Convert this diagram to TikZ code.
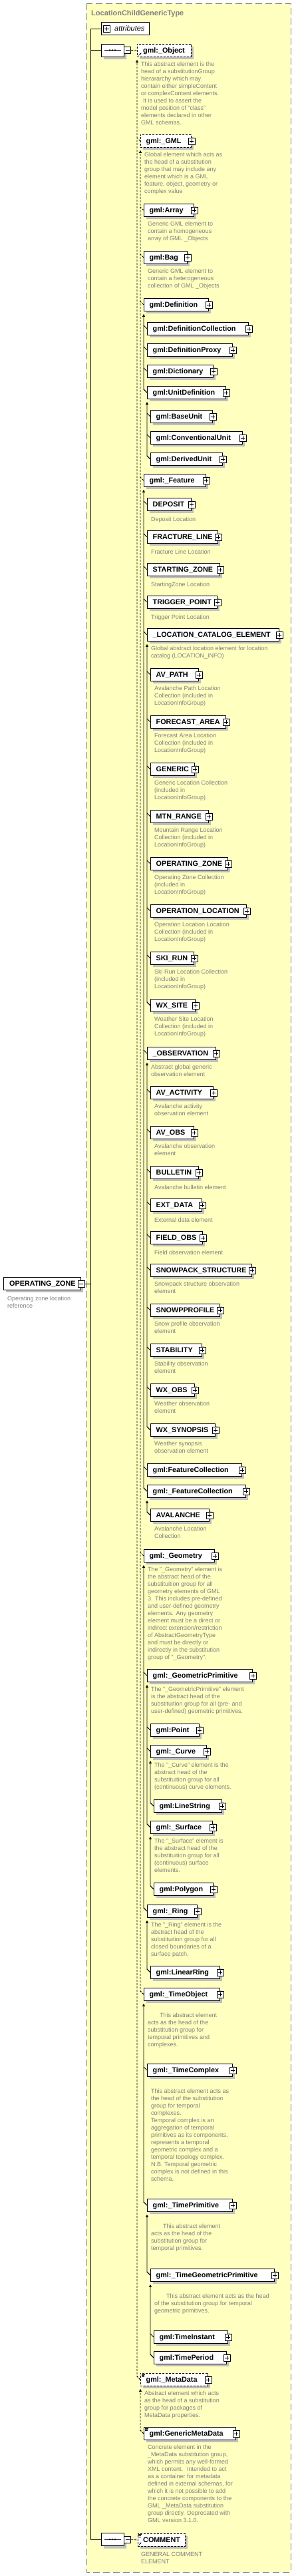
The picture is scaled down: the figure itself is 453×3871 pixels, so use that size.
\documentclass[tikz,border=0pt]{standalone}
\usepackage{fontspec}
\setmainfont{Liberation Sans}
\usetikzlibrary{arrows.meta,shapes.misc}

\definecolor{typefill}{RGB}{255,255,192}
\definecolor{shadowgray}{RGB}{192,192,192}
\definecolor{docgray}{RGB}{128,128,128}

% element box with shadow, label and expander
\newcommand{\elem}[6][]{%
  \fill[shadowgray] ({#3+4},{#4+4}) rectangle ++(#5,19);
  \node[elembox,#1,minimum width=#5pt,anchor=north west] (#2) at (#3,#4) {};
  \node[elemname] (#2t) at ([xshift=8.5pt]#2.west) {#6};
  \node[plusbox] (#2x) at (#2.east) {};
}
% documentation text below an element
\newcommand{\elemdoc}[3][7.3]{%
  \node[doctext] (#2d) at ([shift={(6,#1)}]#2.south west) {#3};
}
% substitution group: ticks to the members, line up to the head
\newcommand{\subgroup}[4][]{%
  \foreach \member in {#3} \draw[subline,#1] (\member.west) -- ++(-5,-5);
  \draw[subline,#1,-{Triangle[width=4pt,length=4pt]}] (#4.west) -- ++(-5,-5) -- ([yshift=-4pt]#2.south west);
}

\begin{document}
\begin{tikzpicture}[x=1pt, y=-1pt,
  typeframe/.style={draw=docgray, fill=typefill, line width=0.9pt, dash pattern=on 10pt off 5pt},
  typetitle/.style={anchor=west, inner sep=0pt, text height=8pt, text depth=0pt, text=docgray, font=\fontsize{11}{13}\selectfont\bfseries},
  elembox/.style={draw, fill=white, line width=0.9pt, minimum height=19pt, inner sep=0pt},
  absbox/.style={dash pattern=on 3pt off 2pt},
  elemname/.style={anchor=west, inner sep=0pt, text height=7.7pt, text depth=0pt, font=\fontsize{10.8}{12}\selectfont\bfseries},
  attrname/.style={anchor=west, inner sep=0pt, text height=7.7pt, text depth=0pt, font=\fontsize{11}{12}\selectfont\itshape},
  plusbox/.style={draw, fill=white, line width=0.8pt, minimum size=10pt, inner sep=0pt,
    path picture={\draw[line width=0.8pt] ([xshift=-3.2pt]path picture bounding box.center) -- ([xshift=3.2pt]path picture bounding box.center)
      ([yshift=-3.2pt]path picture bounding box.center) -- ([yshift=3.2pt]path picture bounding box.center);}},
  minusbox/.style={draw, fill=white, line width=0.8pt, minimum size=10pt, inner sep=0pt,
    path picture={\draw[line width=0.8pt] ([xshift=-3.2pt]path picture bounding box.center) -- ([xshift=3.2pt]path picture bounding box.center);}},
  seqbox/.style={chamfered rectangle, chamfered rectangle xsep=5pt, chamfered rectangle ysep=5pt, minimum width=34pt, minimum height=19pt, inner sep=0pt, line width=0.9pt},
  doctext/.style={anchor=north west, inner sep=0pt, align=left, text=docgray, font=\fontsize{9}{11}\selectfont, execute at begin node=\strut},
  subline/.style={line width=0.8pt},
  conn/.style={line width=0.9pt},
  icon/.style={line width=0.6pt}]

  \fill[white] (0,0) rectangle (453,3871);
  \useasboundingbox (0,0) rectangle (453,3871);

  % Complex type frame
  \draw[typeframe] (130,5) rectangle (437,3865);
  \node[typetitle] (title) at (137,19) {LocationChildGenericType};

  % Attributes
  \node[elembox, minimum width=72pt, anchor=north west] (attr) at (152,33) {};
  \node[plusbox] (attrx) at ([xshift=8.5pt]attr.west) {};
  \node[attrname] (attrt) at ([xshift=20pt]attr.west) {attributes};
  \coordinate (spine) at (136.5,0);

  % Sequences
  \node[seqbox, fill=shadowgray] (seq1s) at (173,79.5) {};
  \node[seqbox, draw, fill=white] (seq1) at (169,75.5) {};
  \draw[line width=0.9pt] ([xshift=-12.5pt]seq1.center) -- ([xshift=12.5pt]seq1.center);
  \foreach \dx in {-4,0,4} \fill ([xshift=\dx pt]seq1.center) circle (1.4pt);
  \node[minusbox, anchor=west] (seq1x) at (seq1.east) {};

  \node[seqbox, fill=shadowgray] (seq2s) at (173,3820) {};
  \node[seqbox, draw, fill=white] (seq2) at (169,3816) {};
  \draw[line width=0.9pt] ([xshift=-12.5pt]seq2.center) -- ([xshift=12.5pt]seq2.center);
  \foreach \dx in {-4,0,4} \fill ([xshift=\dx pt]seq2.center) circle (1.4pt);
  \node[minusbox, anchor=west] (seq2x) at (seq2.east) {};

  % gml:_Object head
  \fill[shadowgray] (210,70) rectangle ++(81,19);
  \node[elembox, absbox, minimum width=81pt, anchor=north west] (obj) at (206,66) {};
  \node[elemname] (objt) at ([xshift=9pt]obj.west) {gml:\_Object};
  \draw[icon, -{Stealth[length=2.5pt,width=2.5pt]}] ([shift={(2.5,-2.5)}]obj.south west) -- ++(4,-4);
  \elemdoc{obj}{This abstract element is the\\head of a substitutionGroup\\hierararchy which may\\contain either simpleContent\\or complexContent elements.\\\hspace*{3pt}It is used to assert the\\model position of "class"\\elements declared in other\\GML schemas.}

  % gml:_GML group
  \elem[absbox]{gmlgml}{211}{202}{76}{gml:\_GML}
  \elemdoc{gmlgml}{Global element which acts as\\the head of a substitution\\group that may include any\\element which is a GML\\feature, object, geometry or\\complex value}
  \elem{array}{216}{306}{75}{gml:Array}
  \elemdoc{array}{Generic GML element to\\contain a homogeneous\\array of GML \_Objects}
  \elem{bag}{216}{377}{65}{gml:Bag}
  \elemdoc{bag}{Generic GML element to\\contain a heterogeneous\\collection of GML \_Objects}

  % Definitions
  \elem{defn}{216}{448}{97}{gml:Definition}
  \elem{defcoll}{221}{484}{152}{gml:DefinitionCollection}
  \elem{defproxy}{221}{516}{128}{gml:DefinitionProxy}
  \elem{dict}{221}{548}{99}{gml:Dictionary}
  \elem{unitdef}{221}{580}{118}{gml:UnitDefinition}
  \elem{baseunit}{226}{616}{93}{gml:BaseUnit}
  \elem{convunit}{226}{648}{138}{gml:ConventionalUnit}
  \elem{derivunit}{226}{680}{108}{gml:DerivedUnit}

  % Features
  \elem{feature}{216}{712}{93}{gml:\_Feature}
  \elem{deposit}{221}{748}{66}{DEPOSIT}
  \elemdoc{deposit}{Deposit Location}
  \elem{fracline}{221}{797}{106}{FRACTURE\_LINE}
  \elemdoc{fracline}{Fracture Line Location}
  \elem{startzone}{221}{846}{109}{STARTING\_ZONE}
  \elemdoc{startzone}{StartingZone Location}
  \elem{trigpoint}{221}{895}{105}{TRIGGER\_POINT}
  \elemdoc{trigpoint}{Trigger Point Location}
  \elem{loccat}{221}{944}{198}{\_LOCATION\_CATALOG\_ELEMENT}
  \elemdoc{loccat}{Global abstract location element for location\\catalog (LOCATION\_INFO)}
  \elem{avpath}{226}{1004}{72}{AV\_PATH}
  \elemdoc{avpath}{Avalanche Path Location\\Collection (included in\\LocationInfoGroup)}
  \elem{fcarea}{226}{1075}{113}{FORECAST\_AREA}
  \elemdoc{fcarea}{Forecast Area Location\\Collection (included in\\LocationInfoGroup)}
  \elem{generic}{226}{1146}{66}{GENERIC}
  \elemdoc{generic}{Generic Location Collection\\(included in\\LocationInfoGroup)}
  \elem{mtnrange}{226}{1217}{87}{MTN\_RANGE}
  \elemdoc{mtnrange}{Mountain Range Location\\Collection (included in\\LocationInfoGroup)}
  \elem{opzone}{226}{1288}{116}{OPERATING\_ZONE}
  \elemdoc{opzone}{Operating Zone Collection\\(included in\\LocationInfoGroup)}
  \elem{oploc}{226}{1359}{144}{OPERATION\_LOCATION}
  \elemdoc{oploc}{Operation Location Location\\Collection (included in\\LocationInfoGroup)}
  \elem{skirun}{226}{1430}{65}{SKI\_RUN}
  \elemdoc{skirun}{Ski Run Location Collection\\(included in\\LocationInfoGroup)}
  \elem{wxsite}{226}{1501}{67}{WX\_SITE}
  \elemdoc{wxsite}{Weather Site Location\\Collection (included in\\LocationInfoGroup)}

  % Observations
  \elem{obs}{221}{1573}{103}{\_OBSERVATION}
  \elemdoc{obs}{Abstract global generic\\observation element}
  \elem{avact}{226}{1632}{94}{AV\_ACTIVITY}
  \elemdoc{avact}{Avalanche activity\\observation element}
  \elem{avobs}{226}{1692}{65}{AV\_OBS}
  \elemdoc{avobs}{Avalanche observation\\element}
  \elem{bulletin}{226}{1752}{72}{BULLETIN}
  \elemdoc{bulletin}{Avalanche bulletin element}
  \elem{extdata}{226}{1801}{77}{EXT\_DATA}
  \elemdoc{extdata}{External data element}
  \elem{fieldobs}{226}{1850}{78}{FIELD\_OBS}
  \elemdoc{fieldobs}{Field observation element}
  \elem{snowstruct}{226}{1899}{152}{SNOWPACK\_STRUCTURE}
  \elemdoc{snowstruct}{Snowpack structure observation\\element}
  \elem{snowprof}{226}{1959}{104}{SNOWPPROFILE}
  \elemdoc{snowprof}{Snow profile observation\\element}
  \elem{stability}{226}{2019}{77}{STABILITY}
  \elemdoc{stability}{Stability observation\\element}
  \elem{wxobs}{226}{2079}{66}{WX\_OBS}
  \elemdoc{wxobs}{Weather observation\\element}
  \elem{wxsyn}{226}{2139}{97}{WX\_SYNOPSIS}
  \elemdoc{wxsyn}{Weather synopsis\\observation element}
  \elem{featcoll}{221}{2199}{142}{gml:FeatureCollection}
  \elem{afeatcoll}{221}{2231}{148}{gml:\_FeatureCollection}
  \elem{avalanche}{226}{2267}{88}{AVALANCHE}
  \elemdoc{avalanche}{Avalanche Location\\Collection}

  % Geometry
  \elem{geom}{216}{2328}{106}{gml:\_Geometry}
  \elemdoc{geom}{The "\_Geometry" element is\\the abstract head of the\\substituition group for all\\geometry elements of GML\\3. This includes pre-defined\\and user-defined geometry\\elements. Any geometry\\element must be a direct or\\indirect extension/restriction\\of AbstractGeometryType\\and must be directly or\\indirectly in the substitution\\group of "\_Geometry".}
  \elem{geomprim}{221}{2508}{158}{gml:\_GeometricPrimitive}
  \elemdoc{geomprim}{The "\_GeometricPrimitive" element\\is the abstract head of the\\substituition group for all (pre- and\\user-defined) geometric primitives.}
  \elem{point}{226}{2590}{73}{gml:Point}
  \elem{curve}{226}{2622}{84}{gml:\_Curve}
  \elemdoc{curve}{The "\_Curve" element is the\\abstract head of the\\substituition group for all\\(continuous) curve elements.}
  \elem{linestr}{231}{2704}{102}{gml:LineString}
  \elem{surface}{226}{2736}{93}{gml:\_Surface}
  \elemdoc{surface}{The "\_Surface" element is\\the abstract head of the\\substituition group for all\\(continuous) surface\\elements.}
  \elem{polygon}{231}{2829}{89}{gml:Polygon}
  \elem{ring}{221}{2862}{75}{gml:\_Ring}
  \elemdoc{ring}{The "\_Ring" element is the\\abstract head of the\\substituition group for all\\closed boundaries of a\\surface patch.}
  \elem{linring}{226}{2954}{104}{gml:LinearRing}

  % Time objects
  \elem{timeobj}{216}{2987}{114}{gml:\_TimeObject}
  \elemdoc[18.3]{timeobj}{\hspace*{18pt}This abstract element\\acts as the head of the\\substitution group for\\temporal primitives and\\complexes.}
  \elem{timecplx}{221}{3101}{128}{gml:\_TimeComplex}
  \elemdoc[18.3]{timecplx}{This abstract element acts as\\the head of the substitution\\group for temporal\\complexes.\\Temporal complex is an\\aggregation of temporal\\primitives as its components,\\represents a temporal\\geometric complex and a\\temporal topology complex.\\N.B. Temporal geometric\\complex is not defined in this\\schema.}
  \elem{timeprim}{221}{3304}{128}{gml:\_TimePrimitive}
  \elemdoc[18.3]{timeprim}{\hspace*{18pt}This abstract element\\acts as the head of the\\substitution group for\\temporal primitives.}
  \elem{timegeom}{226}{3409}{186}{gml:\_TimeGeometricPrimitive}
  \elemdoc[18.3]{timegeom}{\hspace*{18pt}This abstract element acts as the head\\of the substitution group for temporal\\geometric primitives.}
  \elem{timeinst}{231}{3502}{111}{gml:TimeInstant}
  \elem{timeper}{231}{3533}{109}{gml:TimePeriod}

  % Metadata
  \elem[absbox]{metadata}{211}{3566}{101}{gml:\_MetaData}
  \draw[icon] ([shift={(2,2)}]metadata.north west) -- ++(5,0) ++(-5,1.7) -- ++(4,0) ++(-4,1.7) -- ++(4,0);
  \elemdoc{metadata}{Abstract element which acts\\as the head of a substitution\\group for packages of\\MetaData properties.}
  \elem{genmeta}{216}{3647}{138}{gml:GenericMetaData}
  \draw[icon] ([shift={(2,2)}]genmeta.north west) -- ++(5,0) ++(-5,1.7) -- ++(4,0) ++(-4,1.7) -- ++(4,0);
  \elemdoc{genmeta}{Concrete element in the\\\_MetaData substitution group,\\which permits any well-formed\\XML content.~ Intended to act\\as a container for metadata\\defined in external schemas, for\\which it is not possible to add\\the concrete components to the\\GML \_MetaData substitution\\group directly. Deprecated with\\GML version 3.1.0.}

  % COMMENT
  \fill[shadowgray] (210.5,3811) rectangle ++(71.5,19);
  \node[elembox, absbox, minimum width=71.5pt, anchor=north west] (comment) at (206.5,3807) {};
  \node[elemname] (commentt) at ([xshift=8.5pt]comment.west) {COMMENT};
  \draw[icon] ([shift={(1.5,1.5)}]comment.north west) -- ++(5,0) ++(-5,1.7) -- ++(4,0) ++(-4,1.7) -- ++(4,0);
  \draw[icon, -{Stealth[length=2.5pt,width=2.5pt]}] ([shift={(2,-2.5)}]comment.south west) -- ++(4,-4);
  \node[doctext] (commentd) at (212,3834.8) {GENERAL COMMENT\\ELEMENT};

  % OPERATING_ZONE reference
  \fill[shadowgray] (9,1923) rectangle ++(116,19);
  \node[elembox, minimum width=116pt, anchor=north west] (ozref) at (5,1919) {};
  \node[elemname] (ozreft) at ([xshift=9pt]ozref.west) {OPERATING\_ZONE};
  \node[minusbox] (ozrefx) at (ozref.east) {};
  \node[doctext] (ozrefd) at (11,1947.8) {Operating zone location\\reference};

  % Sequence connectors
  \draw[conn] (attr.west) -| (spine |- seq2.west) -- (seq2.west);
  \draw[conn] (seq1.west) -- (seq1.west -| spine);
  \draw[conn] (ozrefx.east) -- (ozrefx.east -| spine);
  \draw[conn, absbox] (seq1x.east) -- (obj.west);
  \draw[conn, absbox] (seq2x.east) -- (comment.west);

  % Substitution groups
  \subgroup[absbox]{obj}{gmlgml,metadata}{metadata}
  \subgroup[absbox]{gmlgml}{array,bag,defn,feature,geom,timeobj}{timeobj}
  \subgroup{defn}{defcoll,defproxy,dict,unitdef}{unitdef}
  \subgroup{unitdef}{baseunit,convunit,derivunit}{derivunit}
  \subgroup{feature}{deposit,fracline,startzone,trigpoint,loccat,obs,featcoll,afeatcoll}{afeatcoll}
  \subgroup{loccat}{avpath,fcarea,generic,mtnrange,opzone,oploc,skirun,wxsite}{wxsite}
  \subgroup{obs}{avact,avobs,bulletin,extdata,fieldobs,snowstruct,snowprof,stability,wxobs,wxsyn}{wxsyn}
  \subgroup{afeatcoll}{avalanche}{avalanche}
  \subgroup{geom}{geomprim,ring}{ring}
  \subgroup{geomprim}{point,curve,surface}{surface}
  \subgroup{curve}{linestr}{linestr}
  \subgroup{surface}{polygon}{polygon}
  \subgroup{ring}{linring}{linring}
  \subgroup{timeobj}{timecplx,timeprim}{timeprim}
  \subgroup{timeprim}{timegeom}{timegeom}
  \subgroup{timegeom}{timeinst,timeper}{timeper}
  \subgroup[absbox]{metadata}{genmeta}{genmeta}
\end{tikzpicture}
\end{document}
